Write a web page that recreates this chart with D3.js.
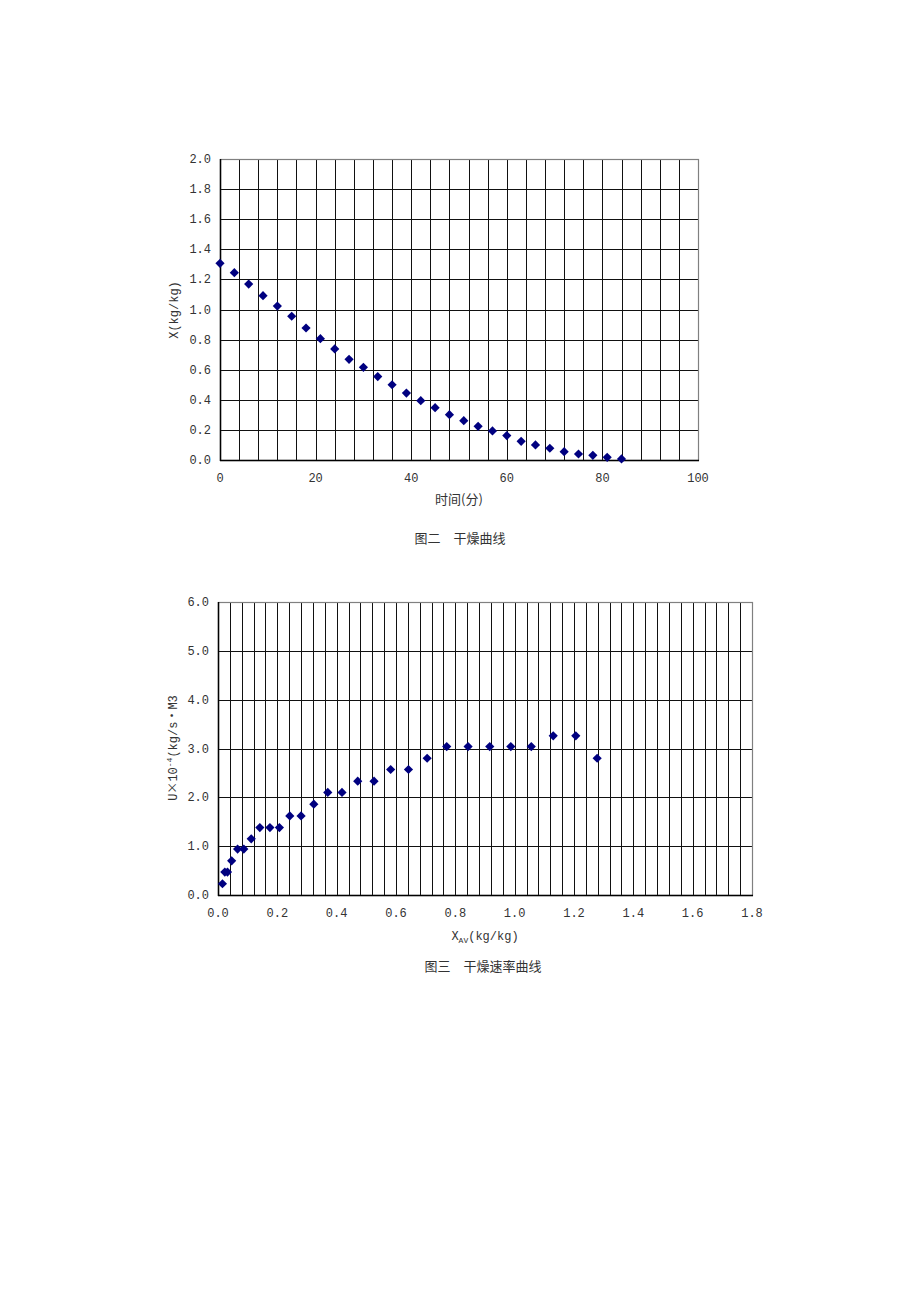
<!DOCTYPE html>
<html><head><meta charset="utf-8">
<script src="https://cdn.jsdelivr.net/npm/d3@7"></script>
<style>
body{margin:0;background:#fff;}
svg{display:block;}
.num{font-family:"Liberation Mono","DejaVu Sans Mono",monospace;font-size:12px;fill:#333;}
.cjk{font-family:"Noto Sans CJK SC",sans-serif;font-size:13px;fill:#333;}
</style></head>
<body>
<script>
// ---- Figure 2: drying curve ----
const timeMin = [0,3,6,9,12,15,18,21,24,27,30,33,36,39,42,45,48,51,54,57,60,63,66,69,72,75,78,81,84];
const moisture = [1.307,1.245,1.169,1.092,1.023,0.955,0.877,0.806,0.738,0.669,0.616,0.554,0.500,0.445,0.394,0.348,0.301,0.261,0.224,0.193,0.162,0.124,0.100,0.078,0.055,0.040,0.031,0.018,0.007];
const fig2XTicks = [0,20,40,60,80,100];
const fig2XGrid = [0,4,8,12,16,20,24,28,32,36,40,44,48,52,56,60,64,68,72,76,80,84,88,92,96,100];
const fig2YTicks = [0,0.2,0.4,0.6,0.8,1.0,1.2,1.4,1.6,1.8,2.0];

// ---- Figure 3: drying rate curve ----
const xAv = [0.015,0.023,0.032,0.046,0.066,0.087,0.112,0.141,0.175,0.207,0.242,0.280,0.323,0.370,0.418,0.471,0.526,0.582,0.642,0.705,0.771,0.843,0.916,0.987,1.056,1.130,1.206,1.278];
const rateU = [0.23,0.47,0.47,0.70,0.94,0.94,1.15,1.38,1.38,1.38,1.62,1.62,1.86,2.10,2.10,2.33,2.33,2.57,2.57,2.80,3.04,3.04,3.04,3.04,3.04,3.26,3.26,2.80];
const fig3XTicks = [0,0.2,0.4,0.6,0.8,1.0,1.2,1.4,1.6,1.8];
const fig3YTicks = [0,1,2,3,4,5,6];
const fig3XGridStep = 0.04;

const svg = d3.select("body").append("svg").attr("width",920).attr("height",1302);

function diamond(g, xs, ys, xv, yv){
  const r = 4.6;
  g.selectAll("path.pt").data(xv.map((v,i)=>[v,yv[i]])).join("path")
    .attr("class","pt")
    .attr("d", d=>{const x=xs(d[0]), y=ys(d[1]); return `M${x},${y-r}L${x+r},${y}L${x},${y+r}L${x-r},${y}Z`;})
    .attr("fill","#000080");
}

function chart(opt){
  const g = svg.append("g");
  const x = d3.scaleLinear().domain(opt.xd).range([opt.l,opt.r]);
  const y = d3.scaleLinear().domain(opt.yd).range([opt.b,opt.t]);
  g.selectAll("line.vg").data(opt.xGrid).join("line")
    .attr("x1",d=>Math.round(x(d))+0.5).attr("x2",d=>Math.round(x(d))+0.5)
    .attr("y1",opt.t).attr("y2",opt.b).attr("stroke","#111").attr("stroke-width",1);
  g.selectAll("line.hg").data(opt.yTicks).join("line")
    .attr("y1",d=>Math.round(y(d))+0.5).attr("y2",d=>Math.round(y(d))+0.5)
    .attr("x1",opt.l).attr("x2",opt.r).attr("stroke","#111").attr("stroke-width",1);
  g.append("rect").attr("x",opt.l+0.5).attr("y",Math.round(opt.t)+0.5)
    .attr("width",opt.r-opt.l).attr("height",Math.round(opt.b)-Math.round(opt.t))
    .attr("fill","none").attr("stroke","#808080").attr("stroke-width",1.2);
  g.append("line").attr("x1",opt.l+0.5).attr("x2",opt.l+0.5).attr("y1",opt.t).attr("y2",opt.b+1).attr("stroke","#000").attr("stroke-width",1.5);
  g.append("line").attr("x1",opt.l).attr("x2",opt.r+1).attr("y1",Math.round(opt.b)+0.5).attr("y2",Math.round(opt.b)+0.5).attr("stroke","#000").attr("stroke-width",1.5);
  g.selectAll("text.yt").data(opt.yTicks).join("text").attr("class","num")
    .attr("x",opt.l-9).attr("y",d=>y(d)+4).attr("text-anchor","end").text(d=>d3.format(".1f")(d));
  g.selectAll("text.xt").data(opt.xTicks).join("text").attr("class","num")
    .attr("x",d=>x(d)).attr("y",opt.b+22).attr("text-anchor","middle").text(opt.xFmt);
  diamond(g,x,y,opt.xs,opt.ys);
  return {g,x,y};
}

const c2 = chart({xd:[0,100],yd:[0,2],l:220,r:698,t:159,b:460,
  xGrid:fig2XGrid,yTicks:fig2YTicks,xTicks:fig2XTicks,xFmt:d=>d3.format("d")(d),
  xs:timeMin,ys:moisture});
c2.g.append("text").attr("class","num").attr("transform","translate(178,310) rotate(-90)")
  .attr("text-anchor","middle").text("X(kg/kg)");
c2.g.append("text").attr("class","cjk").attr("x",459).attr("y",504).attr("text-anchor","middle").text("时间(分)");
c2.g.append("text").attr("class","cjk").attr("font-size","13.5px").attr("x",460).attr("y",543).attr("text-anchor","middle").text("图二　干燥曲线");

const gridX3 = d3.range(0, 45+1).map(i=>+(i*fig3XGridStep).toFixed(2));
const c3 = chart({xd:[0,1.8],yd:[0,6],l:218,r:752,t:602,b:895,
  xGrid:gridX3,yTicks:fig3YTicks,xTicks:fig3XTicks,xFmt:d=>d3.format(".1f")(d),
  xs:xAv,ys:rateU});
const yl = c3.g.append("text").attr("class","num").attr("transform","translate(177,748) rotate(-90)")
  .attr("text-anchor","middle");
yl.append("tspan").text("U");
yl.append("tspan").attr("font-family","Noto Sans CJK SC").text("×");
yl.append("tspan").text("10");
yl.append("tspan").attr("font-size","8px").attr("dy",-5).text("-4");
yl.append("tspan").attr("dy",5).text("(kg/s");
yl.append("tspan").attr("font-family","Noto Sans CJK SC").text("•");
yl.append("tspan").text("M3");
const xl = c3.g.append("text").attr("class","num").attr("x",485).attr("y",940).attr("text-anchor","middle");
xl.append("tspan").text("X");
xl.append("tspan").attr("font-size","8px").attr("dy",3).text("AV");
xl.append("tspan").attr("dy",-3).text("(kg/kg)");
c3.g.append("text").attr("class","cjk").attr("x",483).attr("y",971).attr("text-anchor","middle").text("图三　干燥速率曲线");
</script>
</body></html>
